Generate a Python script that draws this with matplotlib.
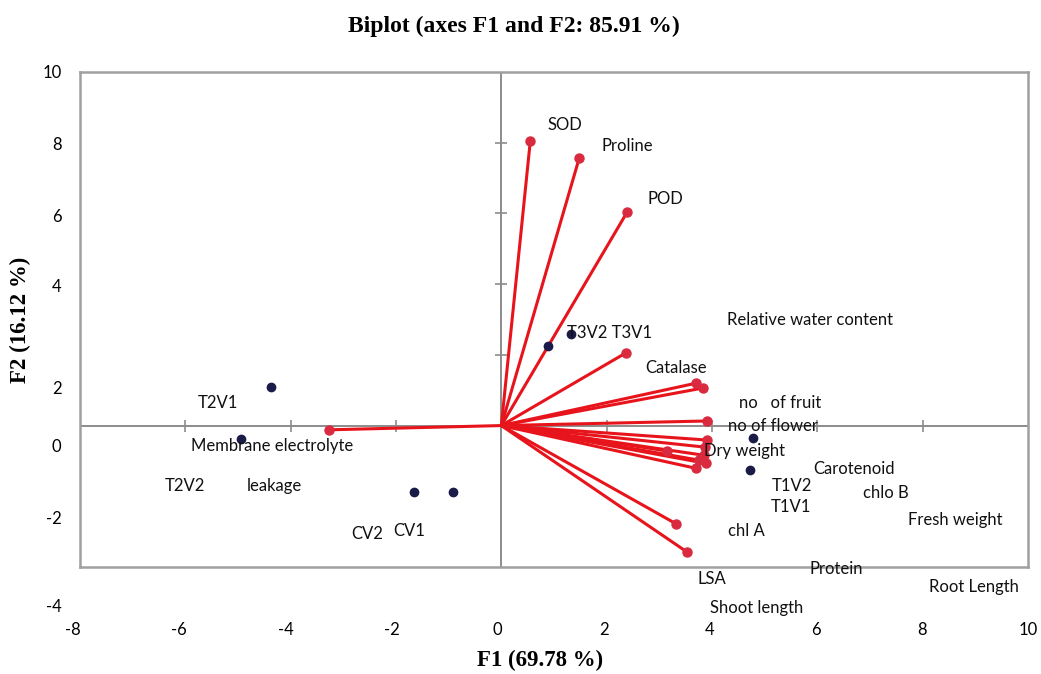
import matplotlib
matplotlib.use("Agg")
import matplotlib.pyplot as plt

# Variable loadings (F1, F2)
var_names = ["SOD", "Proline", "POD", "Catalase", "Relative water content",
             "no of fruit", "no of flower", "Dry weight", "Carotenoid", "chlo B",
             "Fresh weight", "Protein", "Root Length", "Shoot length", "chl A",
             "LSA", "Membrane electrolyte leakage"]
var_f1 = [0.55, 1.48, 2.39, 2.37, 3.70, 3.82, 3.91, 3.91, 3.87, 3.85,
          3.89, 3.70, 3.76, 3.15, 3.32, 3.53, -3.27]
var_f2 = [8.05, 7.57, 6.04, 2.06, 1.20, 1.06, 0.13, -0.41, -0.61, -0.84,
          -1.07, -1.21, -0.98, -0.72, -2.78, -3.58, -0.12]

# Observation scores (F1, F2)
obs_names = ["T3V2", "T3V1", "T2V1", "T2V2", "CV2", "CV1", "T1V1", "T1V2"]
obs_f1 = [1.33, 0.89, -4.37, -4.94, -1.65, -0.91, 4.77, 4.73]
obs_f2 = [2.60, 2.25, 1.09, -0.38, -1.88, -1.88, -0.35, -1.26]

# Axis tick labels
x_tick_values = [-8, -6, -4, -2, 0, 2, 4, 6, 8, 10]
y_tick_labels = ["10", "8", "6", "4", "2", "0", "-2", "-4"]

# Text annotations: (text, x, y) in plot coordinates
annotations = [
    ("SOD", 1.20, 8.50), ("Proline", 2.39, 7.91), ("POD", 3.11, 6.41),
    ("T3V2 T3V1", 2.05, 2.62), ("Relative water content", 5.87, 2.99),
    ("Catalase", 3.32, 1.63), ("no   of fruit", 5.30, 0.64),
    ("no of flower", 5.16, -0.01), ("Dry weight", 4.61, -0.72),
    ("Carotenoid", 6.70, -1.23), ("T1V2", 5.52, -1.71), ("chlo B", 7.31, -1.91),
    ("T1V1", 5.49, -2.30), ("Fresh weight", 8.62, -2.67), ("chl A", 4.65, -2.98),
    ("Protein", 6.36, -4.06), ("LSA", 3.99, -4.34), ("Root Length", 8.98, -4.56),
    ("Shoot length", 4.84, -5.16), ("T2V1", -5.39, 0.64),
    ("Membrane electrolyte", -4.35, -0.58), ("T2V2", -6.00, -1.71),
    ("leakage", -4.31, -1.71), ("CV2", -2.54, -3.07), ("CV1", -1.75, -2.98),
]

W, H = 1041, 674
fig = plt.figure(figsize=(W / 100, H / 100), dpi=100, facecolor="white")

# Main plot box
L, R, T, B = 80, 1028, 72, 567
ax = fig.add_axes([L / W, 1 - B / H, (R - L) / W, (B - T) / H])
ax.set_xlim(-8, 10)
ax.set_ylim(-4, 10)
for s in ax.spines.values():
    s.set_color("#a0a0a0")
    s.set_linewidth(1.8)
ax.set_xticks([])
ax.set_yticks([])

grey = "#8c8c8c"
ax.axhline(0, color=grey, lw=1.4, zorder=1)
ax.axvline(0, color=grey, lw=1.4, zorder=1)
ax.plot([-6, -4, -2, 2, 4, 6, 8], [0] * 7, ls="none", marker="|",
        ms=9, mew=1.2, color=grey, zorder=1)
ax.plot([0] * 4, [2, 4, 6, 8], ls="none", marker="_",
        ms=9, mew=1.2, color=grey, zorder=1)

# Variable vectors
red_line = "#e8141c"
red_tip = "#d92a3f"
for fx, fy in zip(var_f1, var_f2):
    ax.plot([0, fx], [0, fy], color=red_line, lw=2.2, zorder=3,
            solid_capstyle="round")
ax.plot(var_f1, var_f2, ls="none", marker="o", ms=6.5, color=red_tip,
        zorder=4)

# Observations
ax.plot(obs_f1, obs_f2, ls="none", marker="o", ms=6, color="#1b1b4a",
        zorder=5)

label_font = ["Lato", "DejaVu Sans"]
for txt, tx, ty in annotations:
    ax.text(tx, ty, txt, ha="center", va="center", fontsize=12,
            family=label_font, color="#111111", clip_on=False, zorder=6)

# Outer tick labels: horizontal scale
ax_x = fig.add_axes([0, 1 - 622 / H, 1, 0.001], facecolor="none")
ax_x.set_xlim(-9.38, 10.24)
ax_x.set_yticks([])
ax_x.set_xticks(x_tick_values)
ax_x.set_xticklabels([str(v) for v in x_tick_values])
ax_x.tick_params(axis="x", length=0, pad=0, labelsize=12,
                 labelfontfamily="Lato")
for s in ax_x.spines.values():
    s.set_visible(False)

# Outer tick labels: vertical scale
ax_y = fig.add_axes([63 / W, 0, 0.001, 1], facecolor="none")
ax_y.set_ylim(H, 0)
ax_y.set_xticks([])
y_label_px = [71, 143, 215, 285, 387, 446, 517, 605]
ax_y.set_yticks(y_label_px)
ax_y.set_yticklabels(y_tick_labels)
ax_y.tick_params(axis="y", length=0, pad=1, labelsize=12,
                 labelfontfamily="Lato")
for s in ax_y.spines.values():
    s.set_visible(False)

serif = ["Liberation Serif", "DejaVu Serif"]
fig.text(514 / W, 1 - 26 / H, "Biplot (axes F1 and F2: 85.91 %)", ha="center",
         va="center", fontsize=17, fontweight="bold", family=serif)
fig.text(540 / W, 1 - 660 / H, "F1 (69.78 %)", ha="center", va="center",
         fontsize=16.5, fontweight="bold", family=serif)
fig.text(20 / W, 1 - 320 / H, "F2 (16.12 %)", ha="center", va="center",
         rotation=90, fontsize=16.5, fontweight="bold", family=serif)

fig.savefig("out.png", dpi=100, facecolor="white")
